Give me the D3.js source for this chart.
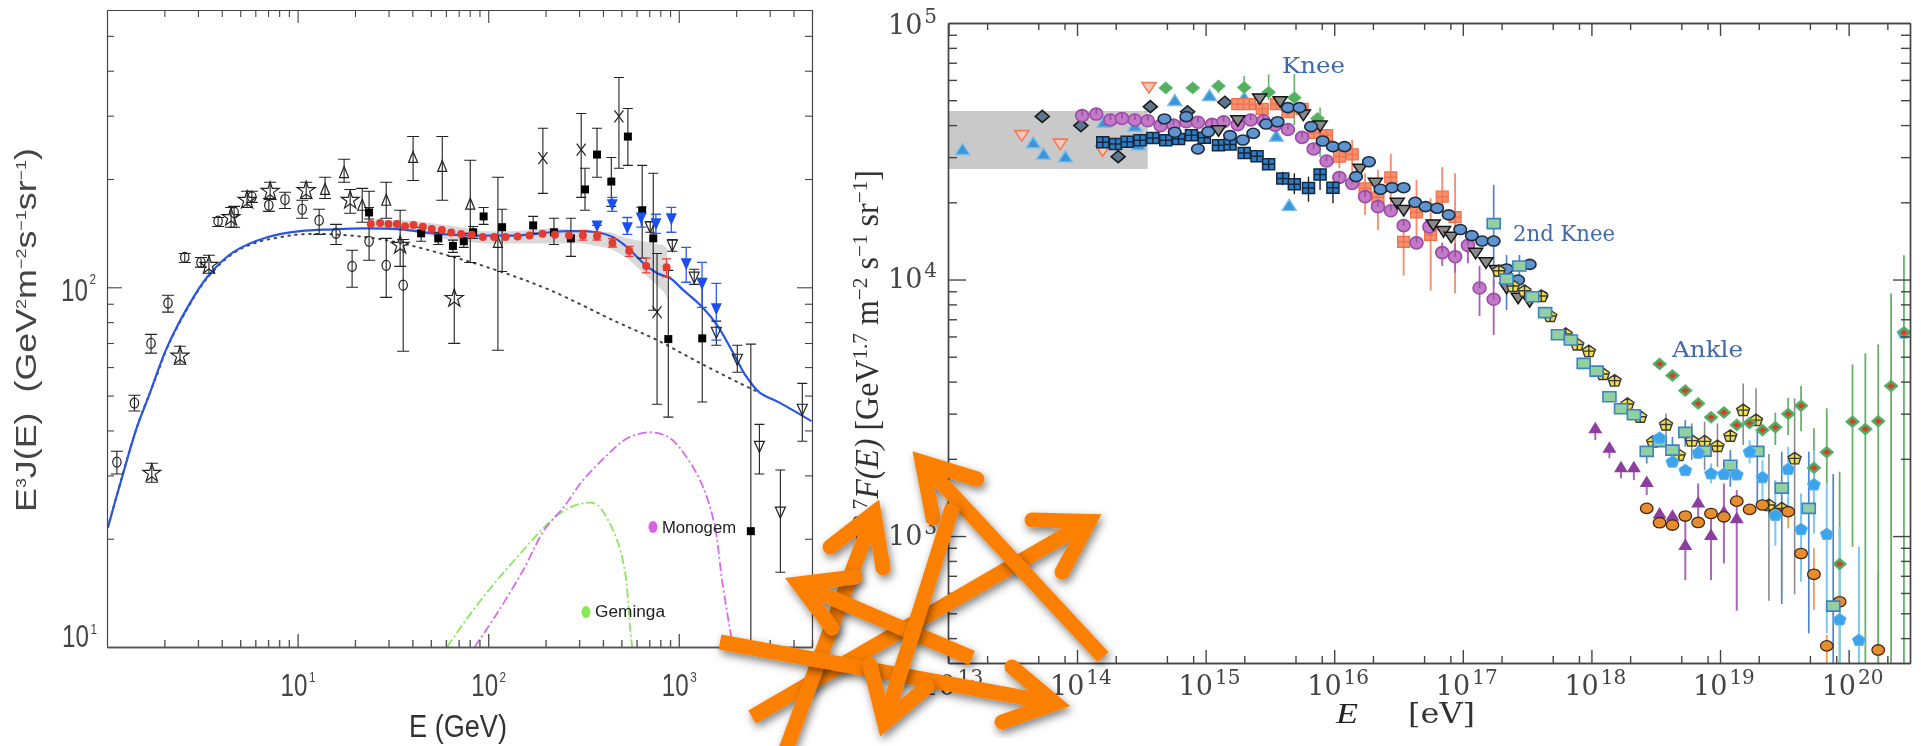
<!DOCTYPE html>
<meta charset="utf-8">
<script src="https://d3js.org/d3.v7.min.js"></script>
<style>
  html, body { margin: 0; padding: 0; background: #fff; overflow: hidden; }
</style>
<body>
<div id="visual"></div>
<script>

// ---- left chart: E^3 J(E) vs E (GeV) ----
var circE = [0.052,0.144,0.231,0.320,0.408,0.493,0.583,0.667,0.760,0.849,0.934,1.024,1.113,1.202,1.286,1.375,1.465,1.554];
var circY = [1.514,1.678,1.844,1.956,2.083,2.069,2.184,2.208,2.251,2.228,2.244,2.217,2.186,2.150,2.058,2.128,2.061,2.006];
var circHi = [1.544,1.700,1.869,1.978,2.094,2.083,2.194,2.225,2.267,2.247,2.264,2.242,2.217,2.175,2.103,2.267,2.136,2.133];
var circLo = [1.481,1.656,1.817,1.931,2.069,2.056,2.169,2.167,2.236,2.211,2.219,2.192,2.147,2.119,2.000,2.075,1.972,1.822];

var starE = [0.235,0.383,0.535,0.651,0.735,0.856,1.045,1.276,1.538,1.822];
var starY = [1.483,1.809,2.061,2.194,2.242,2.267,2.269,2.242,2.117,1.969];
var starHi = [1.511,1.836,2.089,2.222,2.267,2.292,2.292,2.272,2.214,2.086];
var starLo = [1.458,1.786,2.039,2.167,2.222,2.244,2.247,2.206,2.058,1.844];

var triE = [1.144,1.244,1.339,1.465,1.606,1.759,1.906,2.051];
var triY = [2.272,2.319,2.228,2.242,2.361,2.336,2.231,2.125];
var triHi = [2.306,2.356,2.275,2.292,2.419,2.419,2.353,2.306];
var triLo = [2.247,2.292,2.181,2.192,2.297,2.242,2.069,1.825];

var sqE = [1.375,1.648,1.738,1.815,1.872,1.921,1.976,2.073,2.236,2.345,2.434,2.508,2.571,2.646,2.733,2.808,2.866,2.945,3.123,3.378];
var sqY = [2.208,2.150,2.136,2.115,2.128,2.153,2.197,2.167,2.172,2.153,2.136,2.272,2.369,2.294,2.419,2.214,2.136,1.856,1.858,1.322];
var sqHi = [2.222,2.167,2.153,2.131,2.150,2.169,2.222,2.217,2.197,2.192,2.192,2.331,2.442,2.361,2.497,2.339,2.317,2.047,2.025,1.842];
var sqLo = [2.190,2.128,2.119,2.097,2.111,2.136,2.175,2.044,2.150,2.119,2.086,2.214,2.306,2.225,2.339,2.081,1.936,1.639,1.681,1.000];

var crossE = [2.287,2.488,2.686,2.886];
var crossY = [2.359,2.383,2.475,1.931];
var crossHi = [2.442,2.483,2.583,2.094];
var crossLo = [2.261,2.250,2.331,1.675];

var downE = [2.850,2.966,3.081,3.197,3.307,3.423,3.533,3.648];
var downY = [2.168,2.117,2.028,1.875,1.800,1.558,1.375,1.661];
var downHi = [2.183,2.133,2.050,1.906,1.839,1.619,1.492,1.733];
var downLo = [2.153,2.100,2.008,1.839,1.764,1.481,1.208,1.572];

var blueE = [2.571,2.651,2.730,2.803,2.880,2.961,3.039,3.122,3.197];
var blueY = [2.172,2.231,2.167,2.194,2.178,2.192,2.067,2.011,1.942];
var blueHi = [2.172,2.250,2.194,2.222,2.203,2.222,2.111,2.069,2.011];
var blueLo = [2.172,2.211,2.147,2.167,2.150,2.153,2.014,1.944,1.853];

var redE = [1.384,1.433,1.477,1.521,1.564,1.608,1.657,1.704,1.757,1.806,1.858,1.914,1.972,2.031,2.091,2.154,2.217,2.285,2.350,2.424,2.497,2.571,2.652,2.740,2.829,2.936];
var redY = [2.176,2.179,2.176,2.176,2.170,2.173,2.168,2.162,2.159,2.152,2.148,2.146,2.140,2.140,2.140,2.141,2.144,2.149,2.146,2.144,2.144,2.142,2.123,2.101,2.059,2.056];
var redBarE = [2.497,2.571,2.652,2.740,2.829,2.936];
var redBarHi = [2.158,2.153,2.135,2.114,2.081,2.079];
var redBarLo = [2.131,2.131,2.112,2.086,2.040,2.029];

var bandE = [1.381,1.591,1.801,1.974,2.152,2.325,2.499,2.640,2.730,2.919,2.940];
var bandHi = [2.189,2.186,2.172,2.156,2.156,2.164,2.158,2.153,2.136,2.117,2.108];
var bandLo = [2.167,2.156,2.131,2.122,2.122,2.122,2.122,2.108,2.081,1.989,1.969];

var totalE = [0.005,0.079,0.157,0.215,0.315,0.420,0.525,0.661,0.840,1.013,1.186,1.365,1.538,1.711,1.890,1.974,2.152,2.325,2.415,2.572,2.656,2.730,2.814,2.887,2.955,3.024,3.129,3.202,3.286,3.349,3.423,3.533,3.696];
var totalY = [1.333,1.472,1.611,1.692,1.833,1.942,2.028,2.097,2.139,2.156,2.161,2.164,2.161,2.150,2.144,2.144,2.144,2.153,2.156,2.153,2.139,2.111,2.067,2.039,2.025,1.992,1.942,1.894,1.817,1.756,1.708,1.678,1.628];

var bgE = [0.005,0.157,0.262,0.315,0.420,0.525,0.661,0.787,0.908,1.013,1.186,1.365,1.522,1.785,2.063,2.325,2.677,2.887,3.113,3.375,3.428];
var bgY = [1.333,1.611,1.756,1.831,1.939,2.025,2.094,2.125,2.139,2.147,2.147,2.139,2.125,2.089,2.044,1.992,1.903,1.853,1.789,1.719,1.706];

var monoE = [1.929,2.047,2.184,2.294,2.404,2.486,2.623,2.733,2.856,2.953,3.034,3.118,3.186,3.227,3.274,3.286];
var monoY = [1.000,1.094,1.214,1.325,1.394,1.456,1.533,1.581,1.597,1.581,1.533,1.456,1.344,1.186,1.033,1.000];
var gemE = [1.785,1.909,2.047,2.184,2.294,2.404,2.499,2.567,2.635,2.693,2.724,2.745,2.756];
var gemY = [1.000,1.094,1.186,1.269,1.333,1.381,1.400,1.397,1.347,1.269,1.186,1.047,1.000];

// ---- right chart: E^2.7 F(E) vs E (eV) ----
var grayBoxE = [13, 14.55];
var grayBoxY = [4.431, 4.657];

var ltriE = [13.11,13.66,13.74,13.91,14.21,14.45,14.48,14.76,15.03,15.30,15.55,15.65];
var ltriY = [4.505,4.531,4.487,4.476,4.611,4.596,4.523,4.696,4.715,4.706,4.557,4.287];

var striE = [13.57,13.87,14.20,14.56];
var striY = [4.561,4.528,4.502,4.748];

var ddiaE = [13.73,14.03,14.32,14.57,14.86,15.15];
var ddiaY = [4.636,4.600,4.479,4.674,4.654,4.691];

var gdiaE = [14.69,14.90,15.10,15.30,15.49,15.69,15.87];
var gdiaY = [4.747,4.747,4.754,4.749,4.730,4.709,4.628];
var gdiaBarE = [15.10,15.30,15.49,15.69,15.89];
var gdiaBarHi = [4.778,4.793,4.800,4.801,4.671];
var gdiaBarLo = [4.726,4.719,4.700,4.602,4.479];

var purE = [14.04,14.15,14.26,14.35,14.45,14.55,14.65,14.75,14.85,14.94,15.05,15.14,15.25,15.35,15.45,15.54,15.64,15.75,15.84,15.94,16.04,16.14,16.24,16.34,16.44,16.54,16.64,16.74,16.84,16.94,17.04,17.13,17.24];
var purY = [4.639,4.645,4.622,4.628,4.622,4.619,4.600,4.602,4.615,4.613,4.605,4.615,4.604,4.622,4.619,4.602,4.585,4.554,4.509,4.462,4.398,4.375,4.323,4.284,4.268,4.210,4.143,4.205,4.105,4.089,4.133,3.967,3.923];
var purBarE = [16.84,16.94,17.04,17.13,17.24];
var purBarHi = [4.144,4.141,4.154,4.053,3.998];
var purBarLo = [4.053,4.027,4.063,3.858,3.784];

var bcirE = [14.68,14.76,14.85,14.94,15.02,15.19,15.29,15.37,15.47,15.56,15.64,15.73,15.82,15.91,15.99,16.08,16.17,16.27,16.36,16.45,16.54,16.63,16.71,16.80,16.89,16.98,17.07,17.15,17.24,17.34,17.43,17.52,17.61];
var bcirY = [4.626,4.574,4.635,4.509,4.576,4.561,4.544,4.570,4.606,4.615,4.670,4.670,4.596,4.540,4.518,4.518,4.401,4.459,4.352,4.358,4.358,4.301,4.284,4.278,4.252,4.195,4.171,4.150,4.150,4.041,3.998,4.059,3.936];

var dsqE = [14.20,14.30,14.39,14.49,14.59,14.69,14.79,14.89,14.99,15.10,15.19,15.30,15.40,15.49,15.60,15.69,15.80,15.89,15.99];
var dsqY = [4.535,4.528,4.537,4.543,4.552,4.543,4.548,4.562,4.553,4.523,4.526,4.493,4.481,4.449,4.394,4.371,4.357,4.409,4.358];
var dsqBarE = [15.60,15.69,15.80,15.89,15.99];
var dsqBarHi = [4.420,4.414,4.401,4.433,4.381];
var dsqBarLo = [4.368,4.333,4.303,4.349,4.297];

var ssqE = [15.25,15.34,15.44,15.55,15.64,15.75,15.84,15.94,16.04,16.14,16.24,16.34,16.44,16.54,16.64,16.75,16.84,16.94];
var ssqY = [4.684,4.684,4.665,4.684,4.652,4.665,4.572,4.563,4.479,4.488,4.355,4.320,4.398,4.147,4.262,4.174,4.323,4.243];
var ssqBarE = [16.04,16.14,16.24,16.34,16.44,16.54,16.64,16.75,16.84,16.94];
var ssqBarHi = [4.531,4.544,4.414,4.427,4.490,4.232,4.388,4.317,4.438,4.414];
var ssqBarLo = [4.434,4.414,4.252,4.193,4.297,4.015,4.167,3.957,4.265,3.946];

var gtriE = [15.10,15.25,15.42,15.58,15.76,15.89,16.20,16.32,16.49,16.54,16.77,16.85,16.91,17.10,17.18,17.26,17.34,17.43,17.52];
var gtriY = [4.580,4.619,4.704,4.693,4.641,4.598,4.430,4.375,4.297,4.269,4.213,4.187,4.165,4.102,4.065,4.035,3.966,3.927,3.914];

var lsqE = [17.24,17.34,17.44,17.54,17.64,17.74,17.84,17.94,18.04,18.14,18.23,18.33,18.43,18.53,18.63,18.73,18.88,19.08,19.29,19.48,19.69,19.88];
var lsqY = [4.218,4.002,4.053,3.933,3.871,3.785,3.764,3.673,3.643,3.543,3.496,3.473,3.330,3.368,3.335,3.404,3.331,3.276,3.330,3.187,3.108,2.727];
var lsqBarE = [17.24,17.34,17.44,18.43,18.63,18.73,19.08,19.29,19.48,19.69,19.88];
var lsqBarHi = [4.369,4.096,4.096,3.330,3.387,3.452,3.335,3.413,3.329,3.329,3.242];
var lsqBarLo = [3.972,3.881,4.011,3.283,3.283,3.348,3.192,3.127,2.735,2.621,2.504];

var yelE = [17.28,17.39,17.48,17.61,17.68,17.80,17.89,17.98,18.09,18.18,18.28,18.38,18.48,18.58,18.68,18.78,18.88,18.98,19.08,19.18,19.28,19.38,19.48,19.58];
var yelY = [4.034,3.975,3.956,3.936,3.858,3.788,3.747,3.721,3.632,3.606,3.515,3.465,3.368,3.435,3.316,3.372,3.369,3.351,3.391,3.491,3.452,3.121,3.108,3.303];
var yelBarE = [18.58,18.78,18.88,18.98,19.18,19.28,19.38,19.58];
var yelBarHi = [3.478,3.439,3.446,3.439,3.595,3.576,3.320,3.537];
var yelBarLo = [3.387,3.296,3.257,3.270,3.355,3.439,2.748,2.773];

var bpenE = [18.53,18.63,18.73,18.83,18.93,19.03,19.13,19.23,19.33,19.43,19.53,19.63,19.73,19.83,19.93,20.08,20.43];
var bpenY = [3.383,3.290,3.257,3.325,3.244,3.242,3.240,3.329,3.229,3.082,3.261,3.027,3.201,3.008,2.675,2.595,3.793];
var bpenBarE = [18.93,19.23,19.33,19.43,19.53,19.63,19.73,19.83,19.93,20.08];
var bpenBarHi = [3.283,3.374,3.296,3.218,3.348,3.166,3.335,3.205,3.036,2.958];
var bpenBarLo = [3.205,3.283,3.101,2.962,3.114,2.822,3.010,2.621,2.504,2.504];

var rdiaE = [18.53,18.63,18.73,18.83,18.93,19.03,19.13,19.23,19.33,19.43,19.53,19.63,19.73,19.83,19.93,20.03,20.13,20.23,20.33,20.43];
var rdiaY = [3.671,3.626,3.567,3.517,3.463,3.482,3.433,3.441,3.413,3.424,3.476,3.508,3.266,3.327,2.891,3.446,3.417,3.448,3.585,3.793];
var rdiaBarE = [19.43,19.53,19.63,19.73,19.83,19.93,20.03,20.13,20.23,20.33,20.43];
var rdiaBarHi = [3.481,3.539,3.585,3.420,3.498,3.251,3.669,3.712,3.747,3.946,4.095];
var rdiaBarLo = [3.355,3.394,3.409,3.205,3.205,2.504,2.958,2.504,2.504,2.504,2.504];

var ocirE = [18.43,18.53,18.63,18.73,18.83,18.93,19.03,19.13,19.23,19.33,19.43,19.53,19.63,19.73,19.83,19.93,20.23];
var ocirY = [3.108,3.052,3.043,3.078,3.053,3.088,3.075,3.136,3.104,3.121,3.088,3.095,2.932,2.851,2.572,2.744,2.556];
var ocirBarE = [19.53,19.73,19.83,20.23];
var ocirBarHi = [3.147,2.952,2.614,2.854];
var ocirBarLo = [3.030,2.712,2.504,2.504];

var ptriE = [18.03,18.14,18.23,18.33,18.43,18.53,18.63,18.73,18.83,18.93,19.03,19.13];
var ptriY = [3.420,3.344,3.268,3.268,3.211,3.088,3.079,2.965,3.131,3.004,3.095,3.069];
var ptriBarE = [18.03,18.14,18.23,18.33,18.43,18.73,18.83,18.93,19.03,19.13];
var ptriBarHi = [3.420,3.344,3.268,3.268,3.211,3.075,3.205,3.101,3.205,3.179];
var ptriBarLo = [3.374,3.303,3.225,3.218,3.160,2.828,3.075,2.828,2.893,2.709];

// tick labels
var leftXExp = ["1","2","3"];
var rightXExp = ["13","14","15","16","17","18","19","20"];
var rightYExp = ["5","4","3"];

// the orange scribble laid over the picture, in page pixels
var arrows = [
  {from:[752,717], tip:[1102,514], a:[1032,520], b:[1062,572]},
  {from:[785,752], tip:[879,499], a:[830,547], b:[883,568]},
  {from:[720,642], tip:[1070,706], a:[1012,667], b:[1002,722]},
  {from:[972,658], tip:[785,578], a:[855,577], b:[832,628]},
  {from:[1103,657], tip:[912,451], a:[977,479], b:[933,518]},
  {from:[953,505], tip:[880,737], a:[870,665], b:[927,687]}
];

var svg = d3.select("#visual").append("svg")
  .attr("width", 1921).attr("height", 746)
  .style("display", "block");

var defs = svg.append("defs");
defs.append("filter").attr("id", "soft")
  .attr("x", 0).attr("y", 0)
  .attr("filterUnits", "userSpaceOnUse")
  .attr("width", 1921).attr("height", 746)
  .append("feGaussianBlur").attr("stdDeviation", 0.75);
var shadow = defs.append("filter").attr("id", "shadow")
  .attr("x", "-20%").attr("y", "-20%").attr("width", "140%").attr("height", "140%");
shadow.append("feDropShadow").attr("dx", 2).attr("dy", 4).attr("stdDeviation", 4)
  .attr("flood-color", "#000").attr("flood-opacity", 0.5);
defs.append("clipPath").attr("id", "clipL").append("rect")
  .attr("x", 107).attr("y", 10).attr("width", 705).attr("height", 637);
defs.append("clipPath").attr("id", "clipR").append("rect")
  .attr("x", 948).attr("y", 23).attr("width", 962).attr("height", 640);

// scales
var xL = d3.scaleLog().domain([1, 5000]).range([107, 812]);
var yL = d3.scaleLog().domain([10, 590]).range([647, 10]);
var xR = d3.scaleLog().domain([1e13, 3e20]).range([948.4, 1910]);
var yR = d3.scaleLog().domain([320, 1e5]).range([663, 23]);

function pow10(v) { return Math.pow(10, v); }

// marker shapes
var sym = d3.symbol();
var shapes = {
  ring: "M-4.2,0a4.2,5 0 1,0 8.4,0a4.2,5 0 1,0 -8.4,0",
  star: sym.type(d3.symbolStar).size(100)(),
  tri: "M0,-6L4.5,5H-4.5Z",
  down: "M0,6L5,-5H-5Z",
  square: "M-4,-4h8v8h-8Z",
  cross: "M-4.5,-6L4.5,6M4.5,-6L-4.5,6",
  blueDown: "M0,7L5.5,-5H-5.5Z",
  dot: "M-4,0a4,4 0 1,0 8,0a4,4 0 1,0 -8,0",
  rTri: "M0,-6.5L7,4.5H-7Z",
  rDown: "M0,5.5L7,-5H-7Z",
  rDia: "M0,-6L7,0L0,6L-7,0Z",
  rDiaIn: "M0,-2.8L3.8,0L0,2.8L-3.8,0Z",
  oval: "M-6.3,0a6.3,5 0 1,0 12.6,0a6.3,5 0 1,0 -12.6,0",
  purple: "M-6.5,0a6.5,6 0 1,0 13,0a6.5,6 0 1,0 -13,0M0,-6V0",
  orange: "M-6.3,0a6.3,5.2 0 1,0 12.6,0a6.3,5.2 0 1,0 -12.6,0",
  gridSq: "M-6,-5.5h12v11h-12ZM0,-5.5v11M-6,0h12",
  plainSq: "M-6.5,-5h13v10h-13Z",
  pent: "M0,-6L6.5,-1.5L4,5.5H-4L-6.5,-1.5Z",
  pentX: "M0,-6L6.5,-1.5L4,5.5H-4L-6.5,-1.5ZM-6,0H6M0,-6V5",
  pTri: "M0,-6.5L7,5H-7Z"
};

function marks(g, x, y, es, ys, shape, fill, stroke, sw) {
  g.append("g").selectAll("path")
    .data(d3.zip(es, ys))
    .join("path")
      .attr("transform", function(d) { return "translate(" + x(pow10(d[0])) + "," + y(pow10(d[1])) + ")"; })
      .attr("d", shapes[shape])
      .attr("fill", fill)
      .attr("stroke", stroke)
      .attr("stroke-width", sw);
}

function bars(g, x, y, es, hi, lo, color, sw, cap) {
  var b = g.append("g").attr("stroke", color).attr("stroke-width", sw).attr("fill", "none");
  b.selectAll("path")
    .data(d3.zip(es, hi, lo))
    .join("path")
      .attr("d", function(d) {
        var cx = x(pow10(d[0])), t = y(pow10(d[1])), u = y(pow10(d[2]));
        var p = "M" + cx + "," + t + "V" + u;
        if (cap) p += "M" + (cx - cap) + "," + t + "h" + (2 * cap) + "M" + (cx - cap) + "," + u + "h" + (2 * cap);
        return p;
      });
}

function curve(g, x, y, es, ys, color, sw, dash, cap) {
  var line = d3.line()
    .x(function(d) { return x(pow10(d[0])); })
    .y(function(d) { return y(pow10(d[1])); })
    .curve(d3.curveCatmullRom);
  g.append("path")
    .datum(d3.zip(es, ys))
    .attr("fill", "none")
    .attr("stroke", color)
    .attr("stroke-width", sw)
    .attr("stroke-dasharray", dash)
    .attr("stroke-linecap", cap)
    .attr("d", line);
}

function minorTicks(a, b, steps) {
  var out = [];
  for (var k = a; k <= b; k++) steps.forEach(function(s) { out.push(s * Math.pow(10, k)); });
  return out;
}

function frameAxis(g, axisFn, scale, tr, values, size, color, sw) {
  g.append("g")
    .attr("transform", tr)
    .call(axisFn(scale).tickValues(values).tickSize(size).tickSizeOuter(0).tickFormat(""))
    .call(function(s) {
      s.selectAll("path,line").attr("stroke", color).attr("stroke-width", sw);
      s.selectAll("text").remove();
    });
}

function txt(g, x, y, str, font, size, fill, len) {
  var t = g.append("text").attr("x", x).attr("y", y)
    .attr("font-family", font).attr("font-size", size).attr("fill", fill).text(str);
  if (len) t.attr("textLength", len).attr("lengthAdjust", "spacingAndGlyphs");
  return t;
}

// "10" with its exponent, one text element, squeezed by a scale so the glyphs stay where they show
function powLabel(g, x, y, exp, font, size, supSize, rise, fill, sx) {
  var t = g.append("text")
    .attr("transform", "translate(" + x + "," + y + ") scale(" + sx + ",1)")
    .attr("font-family", font).attr("font-size", size).attr("fill", fill);
  t.append("tspan").text("10");
  t.append("tspan").attr("dx", 2).attr("dy", -rise).attr("font-size", supSize).text(exp);
  return t;
}

var page = svg.append("g").attr("filter", "url(#soft)");

// ===== left panel =====
var left = page.append("g");
var sans = "'Liberation Sans', Arial, sans-serif";
var clipL = left.append("g").attr("clip-path", "url(#clipL)");

var bandArea = d3.area()
  .x(function(d) { return xL(pow10(d[0])); })
  .y0(function(d) { return yL(pow10(d[2])); })
  .y1(function(d) { return yL(pow10(d[1])); });
clipL.append("path").datum(d3.zip(bandE, bandHi, bandLo))
  .attr("fill", "#d9d9d9").attr("d", bandArea);

curve(clipL, xL, yL, bgE, bgY, "#444", 2, "1.5 5.5", "round");
curve(clipL, xL, yL, gemE, gemY, "#86e85a", 1.8, "9 3 2 3", "butt");
curve(clipL, xL, yL, monoE, monoY, "#d56cf0", 1.8, "9 3 2 3", "butt");
curve(clipL, xL, yL, totalE, totalY, "#2a55e0", 2.2, null, "butt");

bars(clipL, xL, yL, circE, circHi, circLo, "#222", 1.1, 6);
bars(clipL, xL, yL, starE, starHi, starLo, "#222", 1.1, 6);
bars(clipL, xL, yL, triE, triHi, triLo, "#222", 1.1, 6);
bars(clipL, xL, yL, sqE, sqHi, sqLo, "#222", 1.1, 5);
bars(clipL, xL, yL, crossE, crossHi, crossLo, "#222", 1.1, 5);
bars(clipL, xL, yL, downE, downHi, downLo, "#222", 1.1, 5);
bars(clipL, xL, yL, blueE, blueHi, blueLo, "#2a5df0", 1.3, 5);

marks(clipL, xL, yL, circE, circY, "ring", "none", "#222", 1.2);
marks(clipL, xL, yL, starE, starY, "star", "none", "#222", 1.2);
marks(clipL, xL, yL, triE, triY, "tri", "none", "#222", 1.2);
marks(clipL, xL, yL, crossE, crossY, "cross", "none", "#222", 1.2);
marks(clipL, xL, yL, downE, downY, "down", "none", "#222", 1.2);
marks(clipL, xL, yL, sqE, sqY, "square", "#000", "none", 0);
marks(clipL, xL, yL, blueE, blueY, "blueDown", "#1a50f0", "none", 0);
bars(clipL, xL, yL, redBarE, redBarHi, redBarLo, "#e8413a", 1.3, 4.5);
marks(clipL, xL, yL, redE, redY, "dot", "#e33a32", "none", 0);

var minorL = minorTicks(0, 3, [2,3,4,5,6,7,8,9]).filter(function(v) { return v <= 5000; });
var majorL = [10, 100, 1000];
var minorLY = minorTicks(1, 2, [2,3,4,5,6,7,8,9]).filter(function(v) { return v <= 590; });
var majorLY = [100];
var frameC = "#444";
frameAxis(left, d3.axisBottom, xL, "translate(0,647)", minorL, -7, "#555", 1.4);
frameAxis(left, d3.axisBottom, xL, "translate(0,647)", majorL, -13, "#555", 1.4);
frameAxis(left, d3.axisTop, xL, "translate(0,10)", minorL, -7, frameC, 1.1);
frameAxis(left, d3.axisTop, xL, "translate(0,10)", majorL, -13, frameC, 1.1);
frameAxis(left, d3.axisLeft, yL, "translate(107,0)", minorLY, -7, frameC, 1.1);
frameAxis(left, d3.axisLeft, yL, "translate(107,0)", majorLY, -15, frameC, 1.1);
frameAxis(left, d3.axisRight, yL, "translate(812,0)", minorLY, -7, frameC, 1.1);
frameAxis(left, d3.axisRight, yL, "translate(812,0)", majorLY, -15, frameC, 1.1);

leftXExp.forEach(function(s, i) {
  powLabel(left, xL(majorL[i]) - 17, 696, s, sans, 31, 15, 14, "#444", 0.78);
});
powLabel(left, 61, 301, "2", sans, 31, 15, 17, "#444", 0.78);
powLabel(left, 62, 647, "1", sans, 31, 15, 13, "#444", 0.78);
txt(left, 409, 737, "E (GeV)", sans, 31, "#333", 98);

var titleL = left.append("text")
  .attr("transform", "translate(36,512) rotate(-90)")
  .attr("font-family", sans).attr("font-size", 30).attr("fill", "#444")
  .attr("textLength", 364).attr("lengthAdjust", "spacingAndGlyphs");
[["E",0,30],["3",-10,15],["J(E)",10,30],["  ",0,30],["(GeV",0,30],["2",-10,15],["m",10,30],
 ["\u22122",-10,15],["s",10,30],["\u22121",-10,15],["sr",10,30],["\u22121",-10,15],[")",10,30]]
  .forEach(function(p) {
    titleL.append("tspan").attr("dy", p[1]).attr("font-size", p[2]).attr("xml:space", "preserve").text(p[0]);
  });

left.append("ellipse").attr("cx", 653).attr("cy", 527).attr("rx", 4.5).attr("ry", 6).attr("fill", "#dd5fe8");
txt(left, 662, 533, "Monogem", sans, 16, "#222", 74);
left.append("ellipse").attr("cx", 586).attr("cy", 612).attr("rx", 4.5).attr("ry", 6).attr("fill", "#86ea55");
txt(left, 595, 617, "Geminga", sans, 16, "#222", 70);

// ===== right panel =====
var right = page.append("g");
var serif = "'DejaVu Serif', serif";
var clipR = right.append("g").attr("clip-path", "url(#clipR)");

clipR.append("rect")
  .attr("x", xR(pow10(grayBoxE[0])))
  .attr("y", yR(pow10(grayBoxY[1])))
  .attr("width", xR(pow10(grayBoxE[1])) - xR(pow10(grayBoxE[0])))
  .attr("height", yR(pow10(grayBoxY[0])) - yR(pow10(grayBoxY[1])))
  .attr("fill", "#c9c9c9");

bars(clipR, xR, yR, yelBarE, yelBarHi, yelBarLo, "#8c8c8c", 1.6);
bars(clipR, xR, yR, ocirBarE, ocirBarHi, ocirBarLo, "#ef9a4e", 1.8);
bars(clipR, xR, yR, rdiaBarE, rdiaBarHi, rdiaBarLo, "#66b06a", 1.8);
bars(clipR, xR, yR, bpenBarE, bpenBarHi, bpenBarLo, "#7cc8f4", 2);
bars(clipR, xR, yR, lsqBarE, lsqBarHi, lsqBarLo, "#4d86cc", 1.7);
bars(clipR, xR, yR, ptriBarE, ptriBarHi, ptriBarLo, "#a868b8", 2);
bars(clipR, xR, yR, gdiaBarE, gdiaBarHi, gdiaBarLo, "#62b866", 1.6);
bars(clipR, xR, yR, ssqBarE, ssqBarHi, ssqBarLo, "#f58e72", 1.9);
bars(clipR, xR, yR, purBarE, purBarHi, purBarLo, "#a95cb8", 1.8);
bars(clipR, xR, yR, dsqBarE, dsqBarHi, dsqBarLo, "#222", 1.4);

marks(clipR, xR, yR, ltriE, ltriY, "rTri", "#3d95d8", "#78bdec", 1.4);
marks(clipR, xR, yR, striE, striY, "rDown", "#f8c9b8", "#ee7b58", 1.6);
marks(clipR, xR, yR, ddiaE, ddiaY, "rDia", "#5d7890", "#1b1b1b", 1.6);
marks(clipR, xR, yR, gdiaE, gdiaY, "rDia", "#52b060", "#6fc078", 1);
marks(clipR, xR, yR, ssqE, ssqY, "gridSq", "#f5906e", "#ee6f48", 1.2);
marks(clipR, xR, yR, purE, purY, "purple", "#c17ac6", "#9c4ba8", 1.6);
marks(clipR, xR, yR, gtriE, gtriY, "rDown", "#8a8a8a", "#151515", 1.5);
marks(clipR, xR, yR, dsqE, dsqY, "gridSq", "#2f7cc4", "#14283c", 1.5);
marks(clipR, xR, yR, bcirE, bcirY, "oval", "#6094d0", "#1d2b3a", 1.6);
marks(clipR, xR, yR, yelE, yelY, "pentX", "#f0e04c", "#3a3a3a", 1.4);
marks(clipR, xR, yR, ptriE, ptriY, "pTri", "#8c3d9f", "none", 0);
marks(clipR, xR, yR, ocirE, ocirY, "orange", "#e98c2e", "#3d2a18", 1.3);
marks(clipR, xR, yR, lsqE, lsqY, "plainSq", "#92d0a2", "#3c82c4", 1.6);
marks(clipR, xR, yR, bpenE, bpenY, "pent", "#3ea4ec", "#5ab4f0", 1);
marks(clipR, xR, yR, rdiaE, rdiaY, "rDia", "#4eac5e", "#62b86e", 1);
marks(clipR, xR, yR, rdiaE, rdiaY, "rDiaIn", "#e2382a", "none", 0);

var minorRX = minorTicks(13, 20, [2,5,8]).filter(function(v) { return v <= 3e20; });
var majorRX = rightXExp.map(function(s) { return Math.pow(10, +s); });
var minorRY = minorTicks(2, 4, [2,3,4,5,6,7,8,9]).filter(function(v) { return v >= 320; });
var majorRY = [1e3, 1e4];
var frameR = "#444";
frameAxis(right, d3.axisBottom, xR, "translate(0,663)", minorRX, -7, frameR, 1.4);
frameAxis(right, d3.axisBottom, xR, "translate(0,663)", majorRX, -13, frameR, 1.4);
frameAxis(right, d3.axisTop, xR, "translate(0,23)", minorRX, -7, frameR, 1.4);
frameAxis(right, d3.axisTop, xR, "translate(0,23)", majorRX, -13, frameR, 1.4);
frameAxis(right, d3.axisLeft, yR, "translate(948,0)", minorRY, -9, frameR, 1.4);
frameAxis(right, d3.axisLeft, yR, "translate(948,0)", majorRY, -18, frameR, 1.4);
frameAxis(right, d3.axisRight, yR, "translate(1910,0)", minorRY, -9, frameR, 1.4);
frameAxis(right, d3.axisRight, yR, "translate(1910,0)", majorRY, -17, frameR, 1.4);

rightXExp.forEach(function(s, i) {
  powLabel(right, xR(majorRX[i]) - 27, 695, s, serif, 27, 20, 11, "#444", 1);
});
var yBase = [34, 288, 545];
rightYExp.forEach(function(s, i) {
  powLabel(right, 888, yBase[i], s, serif, 27, 20, 11, "#444", 1);
});

txt(right, 1336, 723, "E", "'Liberation Serif', serif", 30, "#222", 22).attr("font-style", "italic");
txt(right, 1408, 723, "[eV]", serif, 27, "#333", 67);

var serif2 = "'Liberation Serif', serif";
var titleR = right.append("text")
  .attr("transform", "translate(878,545) rotate(-90)")
  .attr("font-family", serif2).attr("font-size", 33).attr("fill", "#333")
  .attr("textLength", 375).attr("lengthAdjust", "spacingAndGlyphs");
[["E",0,33,"italic"],["2.7",-11,22],["F(E)",11,33,"italic"],[" [GeV",0,33],["1.7",-11,22],[" m",11,33],
 ["\u22122",-11,22],[" s",11,33],["\u22121",-11,22],[" sr",11,33],["\u22121",-11,22],["]",11,33]]
  .forEach(function(p) {
    titleR.append("tspan").attr("dy", p[1]).attr("font-size", p[2])
      .attr("font-style", p[3] || "normal").attr("xml:space", "preserve").text(p[0]);
  });

var noteC = "#3f68ad";
txt(right, 1282, 73, "Knee", serif, 22, noteC, 63);
txt(right, 1513, 241, "2nd Knee", serif, 22, noteC, 102);
txt(right, 1672, 357, "Ankle", serif, 22, noteC, 71);

// ===== orange arrows on top =====
var over = svg.append("g");
arrows.forEach(function(a) {
  var dx = a.tip[0] - a.from[0], dy = a.tip[1] - a.from[1], n = Math.hypot(dx, dy);
  var vx = a.tip[0] - 15 * dx / n, vy = a.tip[1] - 15 * dy / n;
  var g = over.append("g")
    .attr("fill", "none").attr("stroke", "#fb7f00").attr("stroke-width", 15)
    .attr("filter", "url(#shadow)");
  g.append("path").attr("d", "M" + a.from + "L" + vx + "," + vy);
  g.append("path")
    .attr("d", "M" + a.a + "L" + vx + "," + vy + "L" + a.b)
    .attr("stroke-linecap", "round").attr("stroke-linejoin", "miter").attr("stroke-miterlimit", 10);
});

</script>
</body>
</html>
